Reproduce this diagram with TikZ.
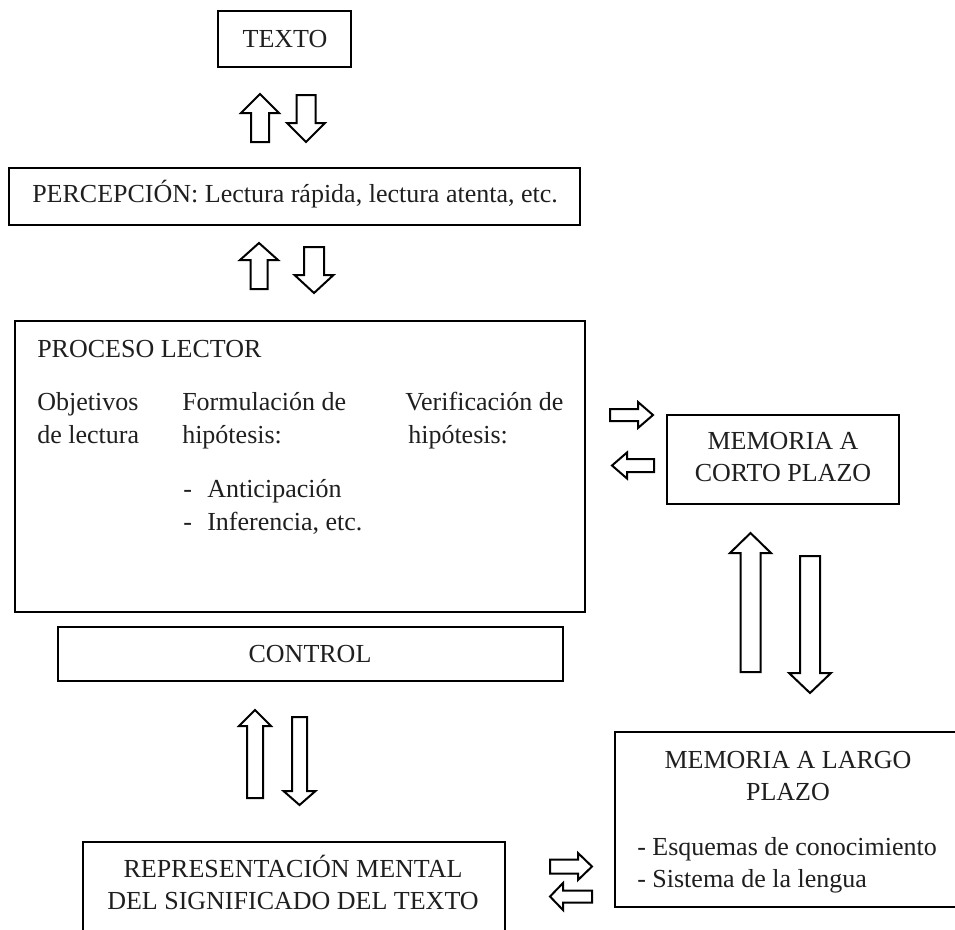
\documentclass[tikz,border=0pt]{standalone}
\usepackage{fontspec}
\setmainfont{Liberation Serif}
\tikzset{
  box/.style={draw=black, line width=1.8pt},
  txt/.style={inner sep=0pt, font=\fontsize{19.5pt}{24.75pt}\selectfont, text=black!88},
  barrow/.style={draw=black, line width=1.5pt, line join=miter, fill=white}
}
% #1 x tail, #2 y tail, #3 angle, #4 length, #5 shaft half width, #6 head half width, #7 head length
\newcommand\blockarrow[7]{%
  \begin{scope}[shift={(#1,#2)},rotate=#3]
    \draw[barrow] (0,-#5) -- ({#4-#7},-#5) -- ({#4-#7},-#6) -- (#4,0) -- ({#4-#7},#6) -- ({#4-#7},#5) -- (0,#5) -- cycle;
  \end{scope}}
\begin{document}
\begin{tikzpicture}[x=0.75pt,y=-0.75pt]
\useasboundingbox (0,0) rectangle (955,929);
\clip (0,0) rectangle (955,929);
\fill[white] (0,0) rectangle (955,929);

% boxes
\draw[box] (218,11) rectangle (351,67);
\draw[box] (9,168) rectangle (580,225);
\draw[box] (15,321) rectangle (585,612);
\draw[box] (58,627) rectangle (563,681);
\draw[box] (83,842) rectangle (505,940);
\draw[box] (667,415) rectangle (899,504);
\draw[box] (615,732) rectangle (960,907);

% texts
\node[txt, anchor=base] (texto) at (285,47) {TEXTO};
\node[txt, anchor=base west] (percep) at (32,202) {PERCEPCIÓN: Lectura rápida, lectura atenta, etc.};
\node[txt, anchor=base west] (proc) at (37,357) {PROCESO LECTOR};
\node[txt, anchor=base west] (obj1) at (37,410) {Objetivos};
\node[txt, anchor=base west] (obj2) at (37,443) {de lectura};
\node[txt, anchor=base west] (for1) at (182,410) {Formulación de};
\node[txt, anchor=base west] (for2) at (182,443) {hipótesis:};
\node[txt, anchor=base west] (ver1) at (405,410) {Verificación de};
\node[txt, anchor=base west] (ver2) at (408,443) {hipótesis:};
\node[txt, anchor=base west] (d1) at (183,497) {-};
\node[txt, anchor=base west] (ant) at (207,497) {Anticipación};
\node[txt, anchor=base west] (d2) at (183,530) {-};
\node[txt, anchor=base west] (inf) at (207,530) {Inferencia, etc.};
\node[txt, anchor=base] (control) at (310,662) {CONTROL};
\node[txt, anchor=base] (rep1) at (293,877) {REPRESENTACIÓN MENTAL};
\node[txt, anchor=base] (rep2) at (293,909) {DEL SIGNIFICADO DEL TEXTO};
\node[txt, anchor=base] (mc1) at (783,449) {MEMORIA A};
\node[txt, anchor=base] (mc2) at (783,481) {CORTO PLAZO};
\node[txt, anchor=base] (ml1) at (788,768) {MEMORIA A LARGO};
\node[txt, anchor=base] (ml2) at (788,800) {PLAZO};
\node[txt, anchor=base west] (ml3) at (637,855) {- Esquemas de conocimiento};
\node[txt, anchor=base west] (ml4) at (637,887) {- Sistema de la lengua};

% block arrows
\blockarrow{260}{142}{90}{48}{9}{19}{19}
\blockarrow{306}{95}{270}{47}{9.5}{19}{19}
\blockarrow{259}{289}{90}{46}{8.5}{19}{17}
\blockarrow{314}{247}{270}{46}{10}{19.5}{18}
\blockarrow{255}{798}{90}{88}{8}{16}{16}
\blockarrow{299.5}{717}{270}{88}{7.5}{16}{14}
\blockarrow{750.5}{672}{90}{139}{10}{20.5}{20}
\blockarrow{810}{556}{270}{137}{10}{21}{20}
\blockarrow{610}{415}{0}{43}{6}{13}{15}
\blockarrow{654}{465.5}{180}{42}{6.5}{13}{15}
\blockarrow{550}{866.5}{0}{42}{7}{13.5}{14}
\blockarrow{592}{896.5}{180}{42}{6}{13.5}{13}
\end{tikzpicture}
\end{document}
